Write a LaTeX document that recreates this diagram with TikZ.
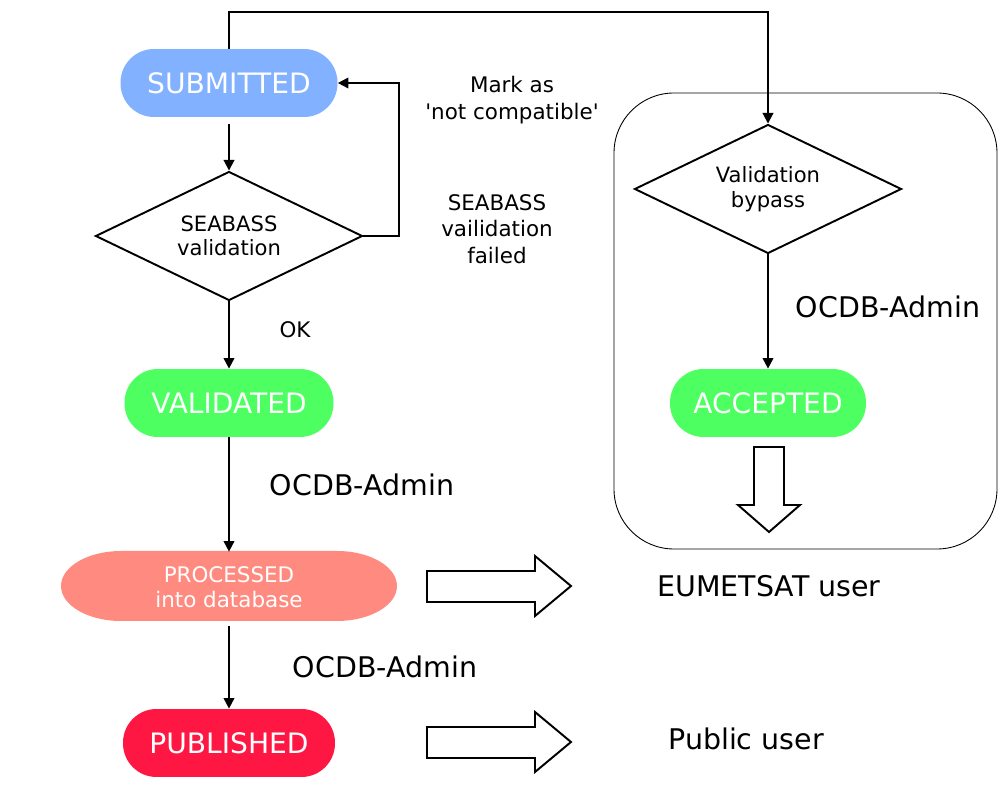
\documentclass[tikz,border=0pt]{standalone}
\usepackage{fontspec}
\setmainfont{DejaVu Sans}
\usetikzlibrary{arrows.meta,shapes.geometric}
\definecolor{subblue}{HTML}{82B1FF}
\definecolor{valgreen}{HTML}{4DFF60}
\definecolor{procred}{HTML}{FF8A80}
\definecolor{pubred}{HTML}{FF1744}

\begin{document}
\begin{tikzpicture}[x=0.02cm,y=-0.02cm,
	state/.style={rectangle,rounded corners=0.67cm,minimum height=1.36cm,inner xsep=2pt,text=white,font=\fontsize{16}{18}\selectfont},
	check/.style={diamond,draw,line width=1.1pt,aspect=2,inner sep=0pt,minimum width=5.34cm,minimum height=2.58cm,align=center,font=\fontsize{12}{14}\selectfont},
	conn/.style={line width=1.1pt,-{Triangle[length=6pt,width=6pt]}},
	lbl/.style={align=center,font=\fontsize{12.2}{15}\selectfont},
	big/.style={font=\fontsize{16.2}{18}\selectfont},
	fat/.style={draw,line width=1.1pt,fill=white}]
			\useasboundingbox (0,0) rectangle (1005,793);
			%caja admin
			\draw[line width=0.5pt,rounded corners=1.2cm] (614,93) rectangle (997,549);
			%estados
			\node[state,fill=subblue,minimum width=4.34cm] (sub) at (229,83) {SUBMITTED};
			\node[check] (seabass) at (229,236) {SEABASS\\validation};
			\node[state,fill=valgreen,minimum width=4.18cm] (val) at (229,403) {VALIDATED};
			\fill[procred] (121,551) -- (337,551) arc[start angle=90,end angle=-90,x radius=1.2cm,y radius=0.7cm] -- (121,621) arc[start angle=270,end angle=90,x radius=1.2cm,y radius=0.7cm] -- cycle;
			\node[minimum width=6.72cm,minimum height=1.4cm,align=center,text=white,font=\fontsize{12.2}{14}\selectfont] (proc) at (229,587) {PROCESSED\\into database};
			\node[state,fill=pubred,minimum width=4.24cm] (pub) at (229,743) {PUBLISHED};
			\node[check] (bypass) at (768,189) {Validation\\bypass};
			\node[state,fill=valgreen,minimum width=3.92cm] (acc) at (768,403) {ACCEPTED};
			\coordinate (turn) at (768,12);
			%textos
			\node[lbl] (mark) at (512,100) {Mark as\\\textquotesingle not compatible\textquotesingle};
			\node[lbl] (fail) at (497,229) {SEABASS\\vailidation\\failed};
			\node[lbl] (ok) at (295,330) {OK};
			\node[big] (adm1) at (362,485) {OCDB-Admin};
			\node[big] (adm2) at (385,667) {OCDB-Admin};
			\node[big] (adm3) at (888,307) {OCDB-Admin};
			\node[big] (eum) at (769,586) {EUMETSAT user};
			\node[big] (pubuser) at (746,739) {Public user};
			%flechas
			\draw[conn,shorten <=4pt] (sub.south) -- (seabass.north);
			\draw[conn] (seabass.east) -- ++(36,0) |- (sub.east);
			\draw[conn] (seabass.south) -- (val.north);
			\draw[conn] (val.south) -- (proc.north);
			\draw[conn,shorten <=2pt] (proc.south) -- (pub.north);
			\draw[conn] (sub.north) |- (turn) -- (bypass.north);
			\draw[conn] (bypass.south) -- (acc.north);
			%flechas gruesas
			\draw[fat] (427,571) -- (535,571) -- (535,556) -- (571,586) -- (535,616) -- (535,602) -- (427,602) -- cycle;
			\draw[fat] (427,727) -- (535,727) -- (535,712) -- (571,742) -- (535,772) -- (535,758) -- (427,758) -- cycle;
			\draw[fat] (754,447) -- (784,447) -- (784,505) -- (800,505) -- (769,532) -- (738,505) -- (754,505) -- cycle;
		\end{tikzpicture}
\end{document}
